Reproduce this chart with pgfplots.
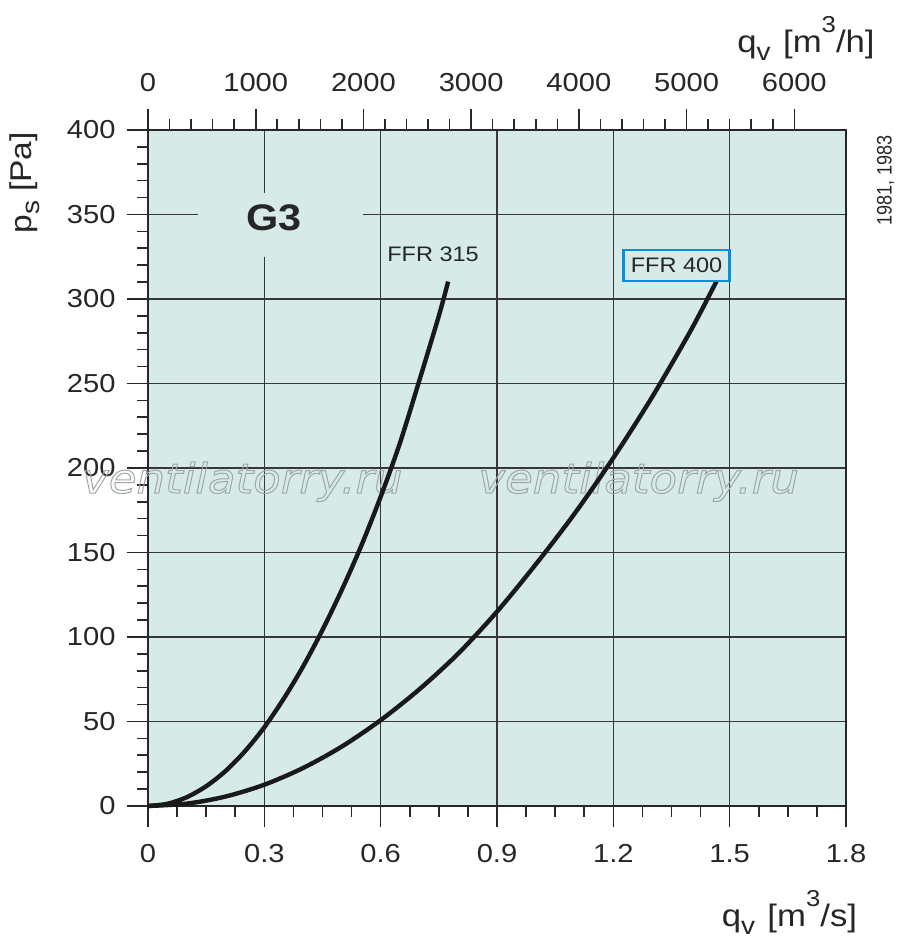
\documentclass[border=0pt]{standalone}
\usepackage{pgfplots}
\pgfplotsset{compat=1.18}
\usepackage{fontspec}
\setmainfont[FakeStretch=1.12]{Liberation Sans}
\newfontfamily\condfont[FakeStretch=0.86]{Liberation Sans}
\newfontfamily\wmfont[FakeStretch=1.1]{DejaVu Sans}
\definecolor{bgc}{RGB}{214,235,232}
\definecolor{gridc}{RGB}{55,55,55}
\definecolor{axc}{RGB}{40,40,40}
\definecolor{boxblue}{RGB}{0,144,224}
\definecolor{curvec}{RGB}{25,25,25}
\newcommand{\sub}[1]{\raisebox{-3.9pt}{\fontsize{12.5}{12.5}\selectfont #1}}
\newcommand{\sups}[1]{\raisebox{10pt}{\fontsize{11.5}{11.5}\selectfont #1}}
\newcommand{\wm}{{\wmfont\itshape\fontsize{20.5}{20.5}\selectfont
  \special{pdf:literal direct 1 Tr 0.5 w 0.62 0.65 0.65 RG}ventilatorry.ru\special{pdf:literal direct 0 Tr}}}

\pgfplotstableread{
x y
0 0
0.05 1.3
0.1 5.2
0.15 11.7
0.2 20.7
0.25 32.4
0.3 46.6
0.35 63.5
0.4 82.6
0.45 104.2
0.5 128
0.55 154
0.6 183
0.65 215
0.7 252
0.75 290
0.774 310.3
}\ffrA

\pgfplotstableread{
x y
0 0
0.1 1.4
0.2 5.6
0.3 12.6
0.4 22.5
0.5 35.2
0.6 50.8
0.7 69.1
0.8 90.2
0.9 115
1.0 143
1.1 173
1.2 206
1.3 242
1.4 281.5
1.466 310.5
}\ffrB

\begin{document}
\begin{tikzpicture}
\useasboundingbox (0,0) rectangle (450pt,475.5pt);
\begin{axis}[
  name=ax,
  at={(74pt,72.5pt)}, anchor=south west,
  scale only axis, width=349pt, height=338pt,
  xmin=0, xmax=1.8, ymin=0, ymax=400,
  clip=false,
  axis background/.style={fill=bgc},
  axis line style={axc, line width=1pt},
  xtick={0,0.3,0.6,0.9,1.2,1.5,1.8},
  xticklabels={0,0.3,0.6,0.9,1.2,1.5,1.8},
  ytick={0,50,...,400},
  yticklabels={0,50,100,150,200,250,300,350,400},
  minor x tick num=3, minor y tick num=4,
  xtick pos=bottom, ytick pos=left,
  tick align=outside,
  major tick length=10.7pt, minor tick length=5.3pt,
  tick style={axc, line width=0.8pt},
  grid=major,
  major grid style={gridc, line width=0.65pt},
  minor grid style={draw=none},
  tick label style={font=\fontsize{13}{13}\selectfont, text=black!85},
  xticklabel style={yshift=-5pt},
  yticklabel style={xshift=-2pt},
]
\fill[bgc] (axis cs:0.129,325) rectangle (axis cs:0.554,363);
\node[font=\bfseries\fontsize{18.5}{18.5}\selectfont, text=black!85] at (axis cs:0.325,348) {G3};
\node[anchor=base west, inner sep=0] at (axis cs:-0.171,185.2) {\wm};
\node[anchor=base west, inner sep=0] at (axis cs:0.851,185.2) {\wm};
\addplot[curvec, line width=2.2pt, smooth, line cap=butt] table[x=x,y=y] {\ffrA};
\addplot[curvec, line width=2.2pt, smooth, line cap=butt] table[x=x,y=y] {\ffrB};
\node[font=\fontsize{10.5}{10.5}\selectfont, text=black!85] at (axis cs:0.735,326.6) {FFR 315};
\node[draw=boxblue, line width=1.1pt, fill=bgc, minimum width=53pt, minimum height=15.5pt, inner sep=1pt,
      font=\fontsize{10.5}{10.5}\selectfont, text=black!85] at (axis cs:1.363,320) {FFR 400};
\end{axis}
\begin{axis}[
  at={(74pt,72.5pt)}, anchor=south west,
  scale only axis, width=349pt, height=338pt,
  xmin=0, xmax=6480, ymin=0, ymax=400,
  axis x line*=top, hide y axis,
  axis line style={axc, line width=1pt},
  xtick={0,1000,...,6000},
  xticklabels={0,1000,2000,3000,4000,5000,6000},
  minor x tick num=4,
  tick align=outside,
  major tick length=10.7pt, minor tick length=5.3pt,
  tick style={axc, line width=0.8pt},
  tick label style={font=\fontsize{13}{13}\selectfont, text=black!85},
  xticklabel style={yshift=5pt},
]
\end{axis}
\node[anchor=base east, inner sep=0, font=\fontsize{15.5}{15.5}\selectfont, text=black!85]
  at ([xshift=14.5pt,yshift=38.8pt]ax.north east) {q\sub{v}\hspace{0.4em}[m\sups{3}/h]};
\node[anchor=base east, inner sep=0, font=\fontsize{15.5}{15.5}\selectfont, text=black!85]
  at ([xshift=5.7pt,yshift=-60.3pt]ax.south east) {q\sub{v}\hspace{0.4em}[m\sups{3}/s]};
\node[anchor=base east, inner sep=0, rotate=90, font=\fontsize{15}{15}\selectfont, text=black!85]
  at ([xshift=-58.2pt,yshift=-0.8pt]ax.north west) {p\sub{s}\hspace{0.3em}[Pa]};
\node[anchor=base east, inner sep=0, rotate=90, font=\condfont\fontsize{10.5}{10.5}\selectfont, text=black!85]
  at ([xshift=22.8pt,yshift=-2.5pt]ax.north east) {1981, 1983};
\end{tikzpicture}
\end{document}
